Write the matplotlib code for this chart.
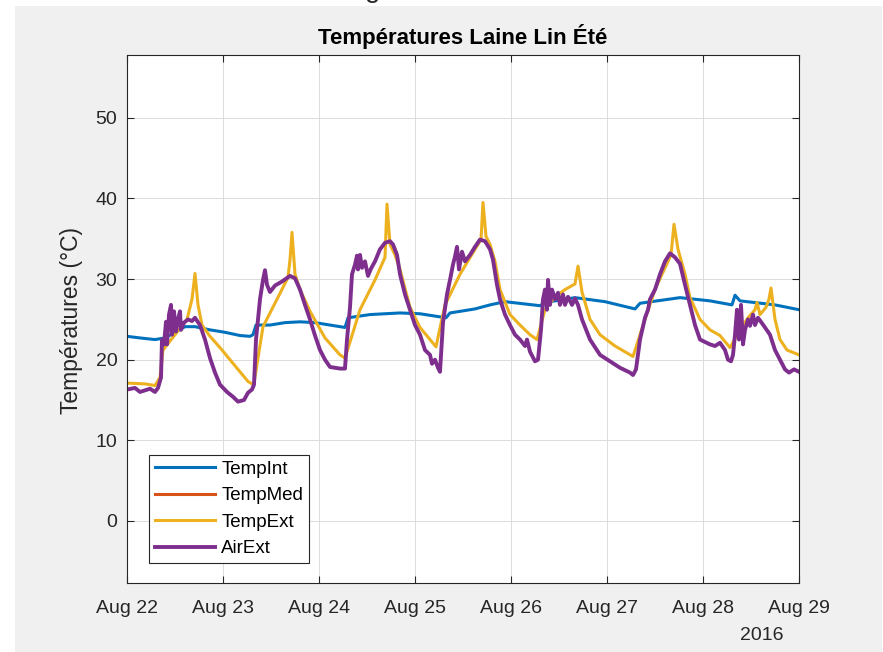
import pandas as pd
import matplotlib.pyplot as plt
import matplotlib.dates as mdates
from matplotlib.patches import Rectangle

plt.rcParams['font.family'] = ['Liberation Sans', 'DejaVu Sans']

# hours since 2016-08-22 00:00, temperatures in degC
int_hours = [0, 3.25, 7, 9.5, 12, 14.5, 17, 20.75, 24.5, 28.25, 30.75, 31.5, 32.25, 35.75,
             39.5, 43.25, 47, 50.75, 54.5, 55.25, 60.75, 68.25, 73.25, 79.75, 80.75, 87,
             90.75, 94.5, 103.25, 104.5, 112, 119.5, 127, 128.25, 138.25, 145.75, 151.25,
             152, 153.25, 162, 168]
int_temp = [22.9, 22.7, 22.5, 22.7, 23.4, 24.1, 24.1, 23.7, 23.4, 23.0, 22.9, 23.1, 24.3, 24.3,
            24.6, 24.7, 24.6, 24.3, 24.0, 25.2, 25.6, 25.8, 25.7, 25.2, 25.8, 26.3,
            26.8, 27.2, 26.7, 27.1, 27.7, 27.2, 26.3, 27.0, 27.7, 27.3, 26.8,
            28.0, 27.3, 26.8, 26.2]

ext_hours = [0, 4.5, 7, 8.25, 9, 12, 15, 16.25, 17, 17.75, 18.75, 20.75, 23.25, 25.75, 28.25,
             30.25, 31.25, 31.75, 34, 37.5, 40.25, 40.75, 41.25, 42, 43.25, 45.75, 49.5, 53.25,
             54.5, 58.25, 62, 64.5, 65, 65.75, 67, 68.25, 70.75, 73.25, 75.75, 77.25, 79.5,
             83.25, 87, 88.5, 89, 89.75, 90.75, 92, 93.25, 95.75, 98.25, 100.75, 102.5, 104.5,
             107, 109.5, 112, 112.75, 113.75, 115.75, 118.25, 122, 126.5, 129.5, 132, 134.5,
             136, 136.75, 137.75, 139.5, 140.75, 143.25, 145.75, 148.25, 150.75, 153.25,
             155.25, 157, 157.5, 158.25, 159.75, 160.5, 161, 162, 163.25, 165, 168]
ext_temp = [17.1, 17.0, 16.8, 17.8, 21.2, 23.1, 25.0, 27.5, 30.7, 26.8, 24.3, 22.9, 21.5, 20.0, 18.5,
            17.3, 17.0, 17.1, 24.1, 27.5, 30.2, 32.4, 35.8, 30.6, 28.7, 26.0, 22.7, 20.6,
            20.2, 26.2, 29.9, 32.7, 39.3, 34.3, 33.0, 31.2, 26.5, 24.0, 22.5, 21.6, 26.8,
            30.6, 33.7, 34.9, 39.5, 35.3, 34.3, 32.2, 28.7, 25.6, 24.3, 23.1, 22.5, 26.2,
            27.8, 28.7, 29.4, 31.6, 28.4, 25.0, 23.1, 21.7, 20.4, 25.0, 28.7, 31.4,
            33.0, 36.8, 33.7, 30.6, 27.7, 25.0, 23.7, 23.0, 21.5, 23.7,
            25.2, 26.2, 27.1, 25.6, 26.5, 27.5, 28.9, 25.0, 22.5, 21.2, 20.6]

air_hours = [0, 2, 3.25, 5.75, 7, 7.75, 8.5, 8.75, 9.25, 9.75, 10, 10.5, 11, 11.25, 11.75, 12.25,
             12.75, 13.25, 13.5, 14.25, 15.25, 16.25, 17, 18.25, 19.5, 20.75, 22, 23.25, 25,
             26.5, 27.75, 29.25, 30.25, 31.25, 31.75, 32.25, 33.25, 34, 34.5, 35, 35.75, 37,
             38.75, 40.75, 42, 43.25, 44.5, 45.75, 47, 48.25, 49.5, 50.75, 53.25, 54.5, 55,
             55.75, 56.25, 57, 57.5, 57.75, 58.25, 58.75, 59.5, 60.25, 61, 62, 63.25, 64.5,
             65.75, 66.5, 67.5, 68.25, 69.5, 70.75, 72, 73.25, 74.5, 75.75, 76.25, 77, 77.75,
             78.25, 79, 80, 80.75, 81.5, 82, 82.5, 83, 83.75, 84.5, 85.75, 87, 88.25, 89.5,
             90.75, 91.5, 92.5, 93.25, 94.5, 95.75, 97, 98.25, 99.5, 100, 100.75, 102, 102.75,
             103.5, 104, 104.5, 105, 105.25, 105.75, 106.25, 107, 107.75, 108.25, 109, 109.5,
             110.25, 111.25, 112, 112.75, 113.75, 115.75, 118.25, 120.75, 123.25, 125.75,
             126.5, 127.25, 128.25, 129.5, 130.25, 130.75, 132, 133.25, 134.5, 135.75, 137,
             138.25, 139.5, 140.75, 142, 143.25, 145.75, 147, 148.25, 149.5, 150.25, 151,
             151.5, 152, 152.5, 153, 153.5, 154, 154.5, 155.25, 155.75, 156.5, 157, 157.75,
             158.5, 159.5, 160.75, 162, 163.25, 164.5, 165.5, 166.75, 168]
air_temp = [16.3, 16.5, 16.0, 16.4, 16.0, 16.5, 17.8, 22.5, 21.9, 24.7, 21.9, 25.6, 26.8, 23.1, 26.0, 23.5,
            25.0, 26.0, 23.7, 24.6, 25.0, 24.8, 25.2, 24.3, 22.5, 20.2, 18.4, 16.9, 16.0,
            15.4, 14.8, 15.0, 15.9, 16.3, 16.9, 22.5, 27.5, 29.9, 31.1, 29.3, 28.4, 29.2,
            29.7, 30.4, 30.1, 28.7, 26.8, 25.0, 23.0, 21.2, 20.0, 19.1, 18.9, 18.9, 22.5,
            26.5, 30.6, 31.8, 32.9, 31.2, 33.0, 31.4, 32.2, 30.4, 31.3, 32.2, 33.7, 34.5,
            34.7, 34.3, 33.0, 30.6, 28.1, 26.2, 24.3, 23.1, 21.2, 20.6, 19.5, 20.0, 19.0,
            18.5, 24.6, 28.1, 29.9, 31.8, 32.8, 34.0, 31.2, 33.4, 32.2, 33.0, 34.0, 34.9, 34.7,
            33.7, 32.4, 29.3, 27.5, 25.6, 24.3, 23.1, 22.5, 21.7, 22.5, 21.0, 19.8, 20.0,
            23.7, 27.5, 28.7, 26.2, 29.9, 26.8, 28.7, 27.5, 28.3, 26.8, 28.1, 26.8,
            27.8, 26.8, 27.6, 26.8, 25.0, 22.5, 20.6, 19.8, 19.0, 18.4,
            18.1, 18.8, 22.5, 25.2, 26.2, 27.5, 28.7, 30.6, 32.2, 33.2, 32.7,
            31.9, 29.3, 26.8, 24.3, 22.5, 21.9, 21.7, 22.1, 21.2, 20.0, 19.8,
            20.6, 23.1, 26.2, 22.5, 26.8, 21.9, 23.7, 25.0, 24.2, 25.6, 24.3, 25.2,
            24.7, 24.0, 23.1, 21.2, 20.0, 18.8, 18.4, 18.8, 18.5]

start = pd.Timestamp('2016-08-22')
day_ticks = pd.date_range('2016-08-22', '2016-08-29', freq='D')


def to_dates(hours):
    return start + pd.to_timedelta(hours, unit='h')


fig = plt.figure(figsize=(8.83, 6.52), dpi=100, facecolor='#f0f0f0')
# white strips of the screenshot
fig.patches.append(Rectangle((0, 0), 15 / 883, 1, transform=fig.transFigure,
                             facecolor='white', edgecolor='none', zorder=0))
fig.patches.append(Rectangle((0, 1 - 6 / 652), 1, 6 / 652, transform=fig.transFigure,
                             facecolor='white', edgecolor='none', zorder=0))
fig.patches.append(Rectangle((882 / 883, 0), 1 / 883, 1, transform=fig.transFigure,
                             facecolor='white', edgecolor='none', zorder=0))
fig.text(373 / 883, 1 + 3 / 652, 'g', fontsize=20, ha='center', va='baseline', color='#262626')

ax = fig.add_axes([127 / 883, 69 / 652, 672 / 883, 528 / 652])
ax.set_facecolor('white')

ax.plot(to_dates(int_hours), int_temp, color='#0072BD', lw=2.2, label='TempInt')
ax.plot([], [], color='#D95319', lw=2.2, label='TempMed')
ax.plot(to_dates(ext_hours), ext_temp, color='#EDB120', lw=2.2, label='TempExt')
ax.plot(to_dates(air_hours), air_temp, color='#7E2F8E', lw=2.8, label='AirExt')

ax.set_xlim(day_ticks[0], day_ticks[-1])
ax.set_ylim(-7.7, 57.8)
ax.set_xticks(day_ticks)
ax.xaxis.set_major_formatter(mdates.DateFormatter('%b %d'))
ax.set_yticks(range(0, 60, 10))

ax.grid(True, color='#dcdcdc', lw=0.7)
ax.set_axisbelow(True)
for s in ax.spines.values():
    s.set_color('#262626')
    s.set_linewidth(0.8)
ax.tick_params(direction='in', length=5, width=0.8, color='#262626', labelcolor='#262626',
               labelsize=14, top=True, right=True)
ax.tick_params(axis='x', pad=12)
ax.tick_params(axis='y', pad=7)

ax.set_title('Températures Laine Lin Été', fontsize=16, fontweight='bold', color='black', pad=8)
ax.set_ylabel('Températures (°C)', fontsize=16.5, color='#262626')
ax.yaxis.set_label_coords(-0.065, 0.498)
ax.text(0.945, -0.1, '2016', transform=ax.transAxes, ha='center', va='center',
        fontsize=14, color='#262626')

leg = ax.legend(loc='lower left', bbox_to_anchor=(0.033, 0.038), borderaxespad=0,
                fontsize=13.5, handlelength=3.2, handletextpad=0.35, labelspacing=0.5,
                borderpad=0.3, fancybox=False, framealpha=1, edgecolor='#262626')
leg.get_frame().set_linewidth(0.8)

fig.savefig('out.png', dpi=100, facecolor=fig.get_facecolor())
